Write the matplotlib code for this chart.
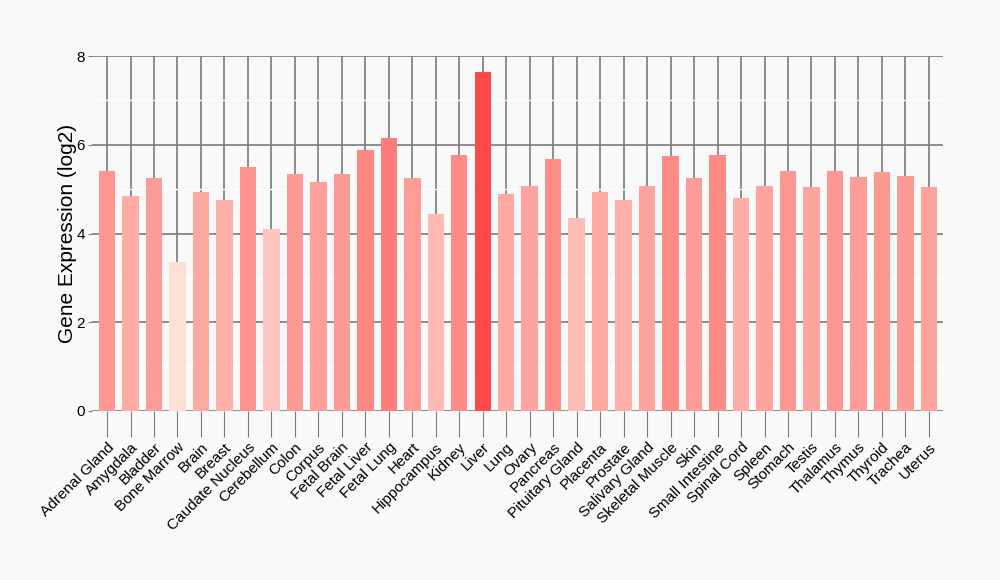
import numpy as np
import matplotlib
matplotlib.use("Agg")
import matplotlib.pyplot as plt
from matplotlib.colors import LinearSegmentedColormap, Normalize

plt.rcParams['font.family'] = ['Liberation Sans', 'DejaVu Sans']

# tissues and expression values (log2)
tissues = ["Adrenal Gland", "Amygdala", "Bladder", "Bone Marrow", "Brain", "Breast",
           "Caudate Nucleus", "Cerebellum", "Colon", "Corpus", "Fetal Brain", "Fetal Liver",
           "Fetal Lung", "Heart", "Hippocampus", "Kidney", "Liver", "Lung", "Ovary",
           "Pancreas", "Pituitary Gland", "Placenta", "Prostate", "Salivary Gland",
           "Skeletal Muscle", "Skin", "Small Intestine", "Spinal Cord", "Spleen", "Stomach",
           "Testis", "Thalamus", "Thymus", "Thyroid", "Trachea", "Uterus"]
values = [5.40, 4.84, 5.24, 3.35, 4.93, 4.75,
          5.49, 4.11, 5.33, 5.15, 5.33, 5.88,
          6.15, 5.24, 4.45, 5.76, 7.64, 4.90, 5.06,
          5.69, 4.36, 4.93, 4.75, 5.06,
          5.74, 5.24, 5.78, 4.79, 5.06, 5.42,
          5.04, 5.42, 5.27, 5.38, 5.29, 5.04]
yticks = [0, 2, 4, 6, 8]

bg = '#f9f9f9'
cmap = LinearSegmentedColormap.from_list('reds', ['#fde0d6', '#ff4848'])
norm = Normalize(vmin=min(values), vmax=max(values))
colors = [cmap(norm(v)) for v in values]

fig = plt.figure(figsize=(10, 5.8), dpi=100, facecolor=bg)
ax = fig.add_axes([0.092, 0.2914, 0.851, 0.612])
ax.set_facecolor(bg)

x = np.arange(len(tissues))
ax.bar(x, values, width=0.7, color=colors, zorder=3)

ax.set_xlim(-0.64, len(tissues) - 0.4)
ax.set_ylim(0, 8)
ax.set_yticks(yticks)
ax.set_yticks([1, 3, 5, 7], minor=True)
ax.set_xticks(x)
ax.set_xticklabels(tissues, rotation=45, ha='right', rotation_mode='anchor', fontsize=11)

ax.grid(True, which='major', color='#7a7a7a', linewidth=1.2, zorder=1)
ax.grid(True, which='minor', axis='y', color='white', linewidth=1, zorder=1)
ax.set_axisbelow(True)

for s in ax.spines.values():
    s.set_visible(False)

ax.tick_params(axis='y', which='major', length=3, color='#7a7a7a', labelsize=11, pad=2)
ax.tick_params(axis='y', which='minor', length=0)
ax.tick_params(axis='x', length=19, color='#7a7a7a', pad=2)

ax.set_ylabel('Gene Expression (log2)', fontsize=15, labelpad=0)

fig.savefig('out.png', dpi=100, facecolor=bg)
